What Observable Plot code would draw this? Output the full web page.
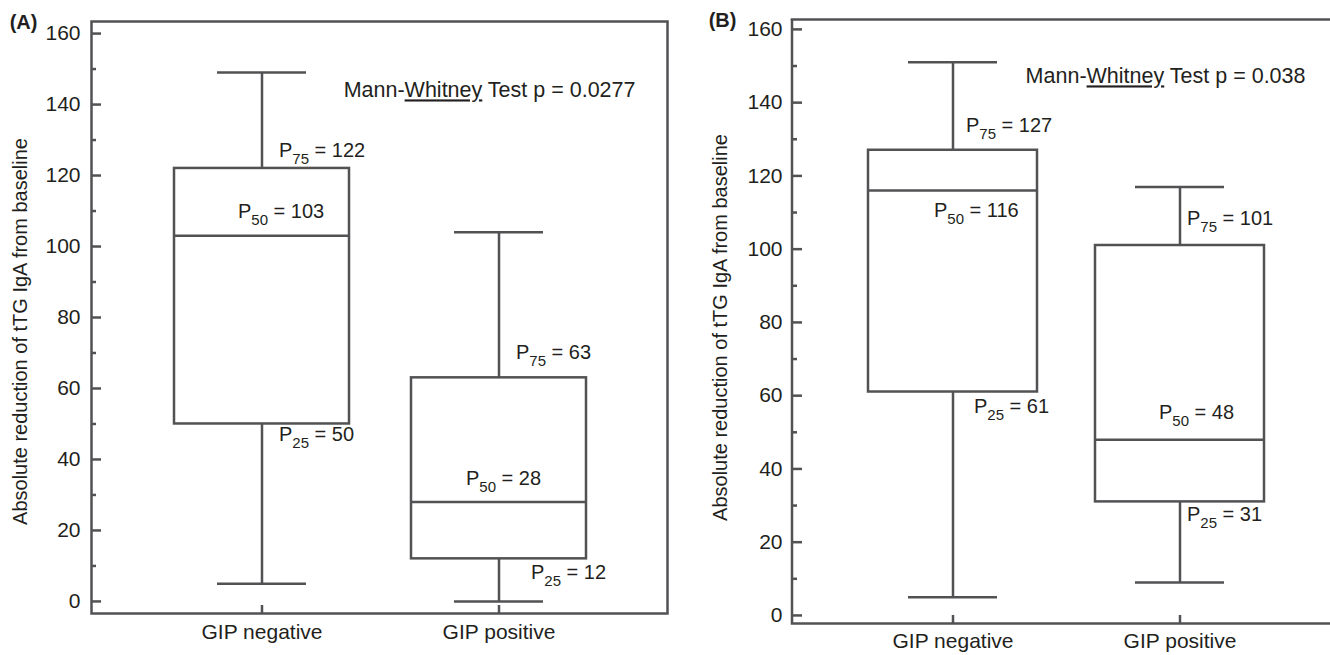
<!DOCTYPE html>
<html>
<head>
<meta charset="utf-8">
<script src="https://cdn.jsdelivr.net/npm/d3@7"></script>
<script src="https://cdn.jsdelivr.net/npm/@observablehq/plot@0.6"></script>
<style>
  html, body { margin: 0; padding: 0; background: #fff; overflow: hidden; width: 1330px; height: 655px; }
  #wrap { position: relative; width: 1330px; height: 655px; overflow: hidden; }
  .panel { position: absolute; top: 0; overflow: hidden; height: 655px; }
  .panel svg { max-width: none !important; }
</style>
</head>
<body>
<div id="wrap"></div>
<script>
// ---------- data ----------
const groups = ["GIP negative", "GIP positive"];

// Panel (A)
const aMin = [5, 0];
const aQ1  = [50, 12];
const aMed = [103, 28];
const aQ3  = [122, 63];
const aMax = [149, 104];
const aTest = "Mann-Whitney Test p = 0.0277";

// Panel (B)
const bMin = [5, 9];
const bQ1  = [61, 31];
const bMed = [116, 48];
const bQ3  = [127, 101];
const bMax = [151, 117];
const bTest = "Mann-Whitney Test p = 0.038";

const majorTicks = [0, 20, 40, 60, 80, 100, 120, 140, 160];
const minorTicks = [10, 30, 50, 70, 90, 110, 130, 150];
const yTitle = "Absolute reduction of tTG IgA from baseline";

// ---------- style / layout ----------
const lineColor = "#525254";
const textColor = "#231f20";
const font = "'Liberation Sans', Arial, Helvetica, sans-serif";

const layoutA = {
  tag: "(A)", left: 0, width: 680, clipWidth: 680, height: 655, closed: true,
  mt: 21, mb: 42, ml: 91, mr: 13,
  yDomain: [-3.4, 163.4], xRange: [173, 587], padInner: 0.26, capInset: 43,
  off: { q3: [[17, -18], [17, -25]], med: [[-24, -24], [-33, -23]], q1: [[17, 11], [32, 14]] },
  testX: 635 - 91, testDy: 69, titleDx: -71, titleDy: 14, tagDx: -68, tagDy: 1, xPad: 11, yPad: 11
};
const layoutB = {
  tag: "(B)", left: 680, width: 700, clipWidth: 650, height: 655, closed: false,
  mt: 19, mb: 32, ml: 112, mr: 0,
  yDomain: [-2.2, 162.7], xRange: [187, 585], padInner: 0.254, capInset: 40,
  off: { q3: [[13, -25], [7, -27]], med: [[-19, 20], [-21, -27]], q1: [[21, 15], [7, 13]] },
  testX: (1305 - 680) - 112, testDy: 57, titleDx: -72, titleDy: 6, tagDx: -70, tagDy: 1, xPad: 10, yPad: 10
};

function panel(L, rows, labels, testText) {
  const plotW = L.width - L.ml - L.mr;
  const plotH = L.height - L.mt - L.mb;
  const sw = 2.5;
  // open frame for (B): top & bottom rules, plus a thin filled strip on the left edge
  const frameMarks = L.closed
    ? [Plot.frame({stroke: lineColor, strokeWidth: sw})]
    : [
        Plot.ruleY([L.yDomain[0], L.yDomain[1]], {y: d => d, insetLeft: -sw / 2, stroke: lineColor, strokeWidth: sw}),
        Plot.rect([0], {y1: () => L.yDomain[0], y2: () => L.yDomain[1], insetLeft: -sw / 2, insetRight: plotW - sw / 2, fill: lineColor})
      ];
  return Plot.plot({
    width: L.width, height: L.height,
    marginTop: L.mt, marginBottom: L.mb, marginLeft: L.ml, marginRight: L.mr,
    style: {fontFamily: font, fontSize: "21px", color: textColor, background: "transparent"},
    x: {type: "band", domain: groups, range: L.xRange, paddingInner: L.padInner, paddingOuter: 0, label: null},
    y: {domain: L.yDomain, label: null},
    marks: [
      ...frameMarks,
      // y ticks (inward)
      Plot.ruleY(majorTicks, {y: d => d, insetRight: plotW - 10, stroke: lineColor, strokeWidth: sw}),
      Plot.ruleY(minorTicks, {y: d => d, insetRight: plotW - 5, stroke: lineColor, strokeWidth: sw}),
      // x ticks (inward)
      Plot.ruleX(groups, {x: d => d, insetTop: plotH - 8, stroke: lineColor, strokeWidth: sw}),
      Plot.axisY({ticks: majorTicks, tickSize: 0, tickPadding: L.yPad, label: null, fill: textColor}),
      Plot.axisX({tickSize: 0, tickPadding: L.xPad, label: null, fill: textColor}),
      // whiskers
      Plot.ruleX(rows, {x: "group", y1: "min", y2: "max", stroke: lineColor, strokeWidth: sw}),
      Plot.tickY(rows, {x: "group", y: "min", insetLeft: L.capInset, insetRight: L.capInset, stroke: lineColor, strokeWidth: sw}),
      Plot.tickY(rows, {x: "group", y: "max", insetLeft: L.capInset, insetRight: L.capInset, stroke: lineColor, strokeWidth: sw}),
      // boxes
      Plot.barY(rows, {x: "group", y1: "q1", y2: "q3", fill: "white", stroke: lineColor, strokeWidth: sw}),
      Plot.tickY(rows, {x: "group", y: "med", stroke: lineColor, strokeWidth: sw}),
      // percentile labels (offsets applied after render)
      Plot.text(labels, {x: "group", y: "v", text: "t", textAnchor: "start", lineAnchor: "middle", fontSize: 20, fill: textColor}),
      // test annotation
      Plot.text([testText], {text: d => d, frameAnchor: "top-left", textAnchor: "end", lineAnchor: "middle", dx: L.testX, dy: L.testDy, fontSize: 21.5, fill: textColor}),
      // y title
      Plot.text([yTitle], {text: d => d, frameAnchor: "left", textAnchor: "middle", lineAnchor: "middle", rotate: -90, dx: L.titleDx, dy: L.titleDy, fontSize: 20, fill: textColor}),
      // panel tag
      Plot.text([L.tag], {text: d => d, frameAnchor: "top-left", textAnchor: "middle", lineAnchor: "middle", dx: L.tagDx, dy: L.tagDy, fontSize: 20, fontWeight: "bold", fill: textColor})
    ]
  });
}

function build(L, mins, q1s, meds, q3s, maxs, testText) {
  const rows = groups.map((g, i) => ({group: g, min: mins[i], q1: q1s[i], med: meds[i], q3: q3s[i], max: maxs[i]}));
  const labels = [];
  const offs = {};
  groups.forEach((g, i) => {
    [["75", q3s[i], L.off.q3[i]], ["50", meds[i], L.off.med[i]], ["25", q1s[i], L.off.q1[i]]].forEach(([p, v, o]) => {
      const t = `P_${p} = ${v}`;
      labels.push({group: g, v, t});
      offs[t] = o;
    });
  });

  const svg = panel(L, rows, labels, testText);
  svg.style.maxWidth = "none";
  svg.style.width = L.width + "px";
  const div = document.createElement("div");
  div.className = "panel";
  div.style.left = L.left + "px";
  div.style.width = L.clipWidth + "px";
  div.appendChild(svg);
  document.getElementById("wrap").appendChild(div);

  const NS = "http://www.w3.org/2000/svg";
  svg.querySelectorAll("text").forEach(t => {
    const s = t.textContent;
    const m = s.match(/^(.*?)_(\d+)(.*)$/);
    if (m && t.children.length === 0) {
      const o = offs[s] || [0, 0];
      t.textContent = "";
      const a = document.createElementNS(NS, "tspan"); a.textContent = m[1];
      a.setAttribute("dx", o[0]); a.setAttribute("dy", o[1]);
      const b = document.createElementNS(NS, "tspan"); b.textContent = m[2];
      b.setAttribute("dy", "7"); b.setAttribute("font-size", "15");
      const c = document.createElementNS(NS, "tspan"); c.textContent = m[3];
      c.setAttribute("dy", "-7");
      t.append(a, b, c);
    } else if (s.includes("Whitney") && t.children.length === 0) {
      const i = s.indexOf("Whitney");
      t.textContent = "";
      const a = document.createElementNS(NS, "tspan"); a.textContent = s.slice(0, i);
      const b = document.createElementNS(NS, "tspan"); b.textContent = "Whitney";
      b.setAttribute("text-decoration", "underline"); b.style.textDecoration = "underline";
      const c = document.createElementNS(NS, "tspan"); c.textContent = s.slice(i + 7);
      t.append(a, b, c);
    }
  });
}

build(layoutA, aMin, aQ1, aMed, aQ3, aMax, aTest);
build(layoutB, bMin, bQ1, bMed, bQ3, bMax, bTest);
</script>
</body>
</html>
